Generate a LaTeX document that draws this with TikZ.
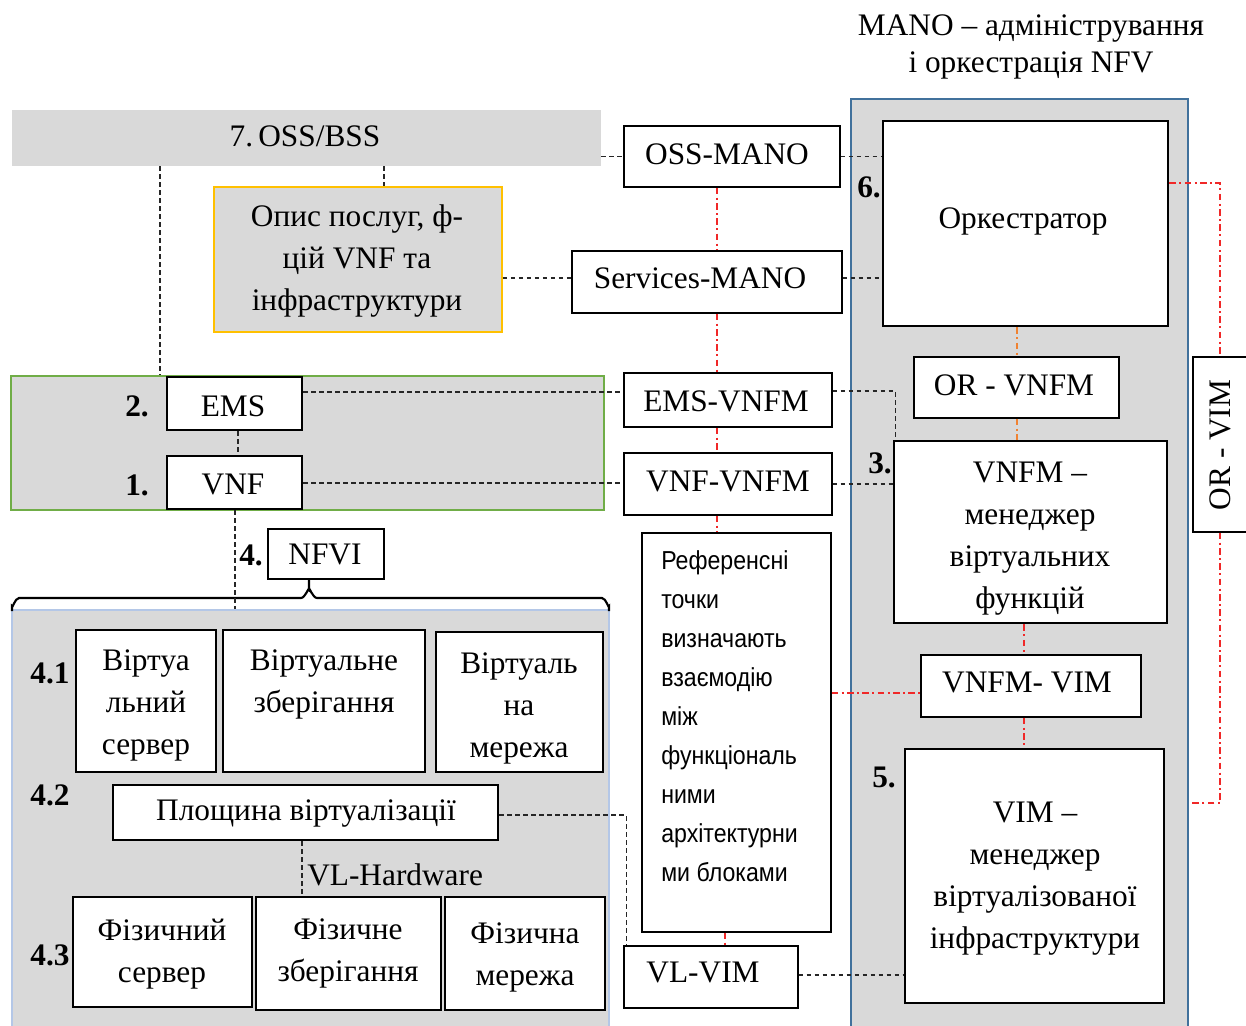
\documentclass[tikz,border=0pt]{standalone}
\usepackage{fontspec}
\setmainfont{Liberation Serif}
\newfontfamily\narrowsans[FakeStretch=0.89]{Liberation Sans}
\usetikzlibrary{fit,calc}
\definecolor{gfill}{RGB}{217,217,217}
\definecolor{ybord}{RGB}{255,192,0}
\definecolor{gbord}{RGB}{112,173,71}
\definecolor{mbord}{RGB}{65,113,156}
\definecolor{nbord}{RGB}{180,199,231}
\definecolor{rline}{RGB}{240,40,40}
\definecolor{oline}{RGB}{240,130,50}
\tikzset{
  thinbox/.style={draw=black, line width=1pt, fill=white, inner sep=0pt},
  thickbox/.style={draw=black, line width=2.2pt, fill=white, inner sep=0pt},
  region/.style={fill=gfill, inner sep=0pt},
  lbl/.style={font=\fontsize{23.5}{31.5}\selectfont, align=center, inner sep=0pt},
  num/.style={font=\fontsize{23.5}{28}\selectfont\bfseries, inner sep=0pt},
  bdash/.style={draw=black!85, line width=1pt, dash pattern=on 3.5pt off 2.5pt},
  rdash/.style={draw=rline, line width=1pt, dash pattern=on 5pt off 2.5pt on 1.5pt off 2.5pt},
  odash/.style={draw=oline, line width=1pt, dash pattern=on 5pt off 2.5pt on 1.5pt off 2.5pt},
}
\begin{document}
\begin{tikzpicture}[x=0.75pt,y=-0.75pt]
\useasboundingbox (0,0) rectangle (1246,1025);
\fill[white] (0,0) rectangle (1246,1025);

% ---------- regions ----------
\node[region, fit={(12,110)(601,166)}] (ossbss) {};
\node[region, draw=mbord, line width=1.6pt, fit={(851,99)(1188,1040)}] (mano) {};
\node[region, draw=gbord, line width=1pt, fit={(11,376)(604,510)}] (green) {};
\node[region, draw=nbord, line width=1pt, fit={(12,610)(609,1040)}] (nfviarea) {};
\node[region, draw=ybord, line width=1.2pt, fit={(214,187)(502,332)}] (descr) {};

% ---------- title ----------
\node[lbl, font=\fontsize{23.5}{27.75}\selectfont] (title) at (1031,46.5) {MANO – адміністрування\\і оркестрація NFV};

% ---------- boxes ----------
\node[thinbox, fit={(624,126)(840,187)}] (ossmano) {};
\node[thinbox, fit={(572,251)(842,313)}] (servmano) {};
\node[thinbox, fit={(624,373)(832,427)}] (emsvnfm) {};
\node[thinbox, fit={(624,453)(832,515)}] (vnfvnfm) {};
\node[thinbox, fit={(642,533)(831,932)}] (refbox) {};
\node[thinbox, fit={(624,946)(798,1008)}] (vlvim) {};

\node[thickbox, fit={(883,121)(1168,326)}] (orch) {};
\node[thinbox, fit={(914,357)(1119,418)}] (orvnfm) {};
\node[thickbox, fit={(894,441)(1167,623)}] (vnfm) {};
\node[thinbox, fit={(921,655)(1141,717)}] (vnfmvim) {};
\node[thickbox, fit={(905,749)(1164,1003)}] (vim) {};
\node[thinbox, fit={(1193,357)(1250,532)}] (orvim) {};

\node[thickbox, fit={(167,377)(302,430)}] (ems) {};
\node[thickbox, fit={(167,456)(302,509)}] (vnf) {};
\node[thinbox, fit={(268,529)(384,579)}] (nfvi) {};

\node[thickbox, fit={(76,630)(216,772)}] (vserv) {};
\node[thickbox, fit={(223,630)(425,772)}] (vstor) {};
\node[thickbox, fit={(436,632)(603,772)}] (vnet) {};
\node[thickbox, fit={(113,785)(498,840)}] (plosh) {};
\node[thickbox, fit={(73,897)(252,1007)}] (fserv) {};
\node[thickbox, fit={(256,897)(441,1010)}] (fstor) {};
\node[thickbox, fit={(445,897)(605,1010)}] (fnet) {};

% ---------- texts ----------
\node[lbl] (tossbss) at (305,136) {7.\,OSS/BSS};
\node[lbl] (tdescr) at (357,261) {Опис послуг, ф-\\цій VNF та\\інфраструктури};
\node[lbl] (tossmano) at (727,154) {OSS-MANO};
\node[lbl] (tservmano) at (700,278) {Services-MANO};
\node[lbl] (temsvnfm) at (726,401) {EMS-VNFM};
\node[lbl] (tvnfvnfm) at (728,481) {VNF-VNFM};
\node[lbl] (tvlvim) at (703,972) {VL-VIM};
\node[anchor=north west, align=left, inner sep=0pt,
      font=\narrowsans\fontsize{19.5}{29.25}\selectfont] (treftxt) at (661,550)
  {Референсні\\точки\\визначають\\взаємодію\\між\\функціональ\\ними\\архітектурни\\ми блоками};

\node[lbl] (torch) at (1023,221) {Оркестратор};
\node[lbl] (torvnfm) at (1014,385) {OR - VNFM};
\node[lbl] (tvnfm) at (1030,539) {VNFM –\\менеджер\\віртуальних\\функцій};
\node[lbl] (tvnfmvim) at (1027,682) {VNFM- VIM};
\node[lbl] (tvim) at (1035,879) {VIM –\\менеджер\\віртуалізованої\\інфраструктури};
\node[lbl, rotate=90] (torvim) at (1220,445) {OR - VIM};

\node[lbl] (tems) at (233,406) {EMS};
\node[lbl] (tvnf) at (233,484) {VNF};
\node[lbl] (tnfvi) at (325,554) {NFVI};
\node[lbl] (tvserv) at (146,705) {Віртуа\\льний\\сервер};
\node[lbl] (tvstor) at (324,684) {Віртуальне\\зберігання};
\node[lbl] (tvnet) at (519,708) {Віртуаль\\на\\мережа};
\node[lbl] (tplosh) at (306,813) {Площина віртуалізації};
\node[lbl, anchor=west] (tvlhw) at (307,875) {VL-Hardware};
\node[lbl] (tfserv) at (162,954) {Фізичний\\сервер};
\node[lbl] (tfstor) at (348,953) {Фізичне\\зберігання};
\node[lbl] (tfnet) at (525,957) {Фізична\\мережа};

% ---------- numbers ----------
\node[num] (n6) at (869,187) {6.};
\node[num] (n3) at (880,463) {3.};
\node[num] (n5) at (884,777) {5.};
\node[num] (n2) at (137,406) {2.};
\node[num] (n1) at (137,485) {1.};
\node[num] (n4) at (251,555) {4.};
\node[num] (n41) at (50,673) {4.1};
\node[num] (n42) at (50,795) {4.2};
\node[num] (n43) at (50,955) {4.3};

% ---------- brace ----------
\draw[line width=1.6pt] (12,611) -- (12,606) to[out=-90,in=180] (19,598) -- (301,598)
   to[out=0,in=90] (309,590) -- (nfvi.south -| 309,0);
\draw[line width=1.6pt] (309,590) to[out=90,in=180] (317,598) -- (602,598)
   to[out=0,in=-90] (609,606) -- (609,611);

% ---------- black dashed connectors ----------
\draw[bdash] (ossbss.south -| 160,0) -- (green.north -| 160,0);
\draw[bdash] (ossbss.south -| 384,0) -- (descr.north -| 384,0);
\draw[bdash] (ossmano.west -| ossbss.east) -- (ossmano.west);
\draw[bdash] (ossmano.east) -- (ossmano.east -| orch.west);
\draw[bdash] (descr.east |- 0,278) -- (servmano.west |- 0,278);
\draw[bdash] (servmano.east |- 0,278) -- (orch.west |- 0,278);
\draw[bdash] (ems.east |- 0,392) -- (emsvnfm.west |- 0,392);
\draw[bdash] (emsvnfm.east |- 0,391) -| ([xshift=2.25pt]vnfm.north west);
\draw[bdash] (vnf.east |- 0,483) -- (vnfvnfm.west |- 0,483);
\draw[bdash] (vnfvnfm.east |- 0,484) -- (vnfm.west |- 0,484);
\draw[bdash] (ems.south -| 238,0) -- (vnf.north -| 238,0);
\draw[bdash] (vnf.south -| 235,0) -- (nfviarea.north -| 235,0);
\draw[bdash] (plosh.south -| 302,0) -- (fstor.north -| 302,0);
\draw[bdash] (plosh.east |- 0,815) -| ([xshift=2.25pt]vlvim.north west);
\draw[bdash] (vlvim.east |- 0,975) -- (vim.west |- 0,975);

% ---------- red / orange connectors ----------
\draw[rdash] (ossmano.south -| 717,0) -- (servmano.north -| 717,0);
\draw[rdash] (servmano.south -| 717,0) -- (emsvnfm.north -| 717,0);
\draw[rdash] (emsvnfm.south -| 717,0) -- (vnfvnfm.north -| 717,0);
\draw[rdash] (vnfvnfm.south -| 717,0) -- (refbox.north -| 717,0);
\draw[rdash] (refbox.south -| 725,0) -- (vlvim.north -| 725,0);
\draw[rdash] (refbox.east |- 0,693) -- (vnfmvim.west |- 0,693);
\draw[odash] (orch.south -| 1017,0) -- (orvnfm.north -| 1017,0);
\draw[odash] (orvnfm.south -| 1017,0) -- (vnfm.north -| 1017,0);
\draw[rdash] (vnfm.south -| 1024,0) -- (vnfmvim.north -| 1024,0);
\draw[rdash] (vnfmvim.south -| 1024,0) -- (vim.north -| 1024,0);
\draw[rdash] (orch.east |- 0,183) -| (orvim.north -| 1220,0);
\draw[rdash] (orvim.south -| 1220,0) |- (mano.east |- 0,803);
\end{tikzpicture}
\end{document}
